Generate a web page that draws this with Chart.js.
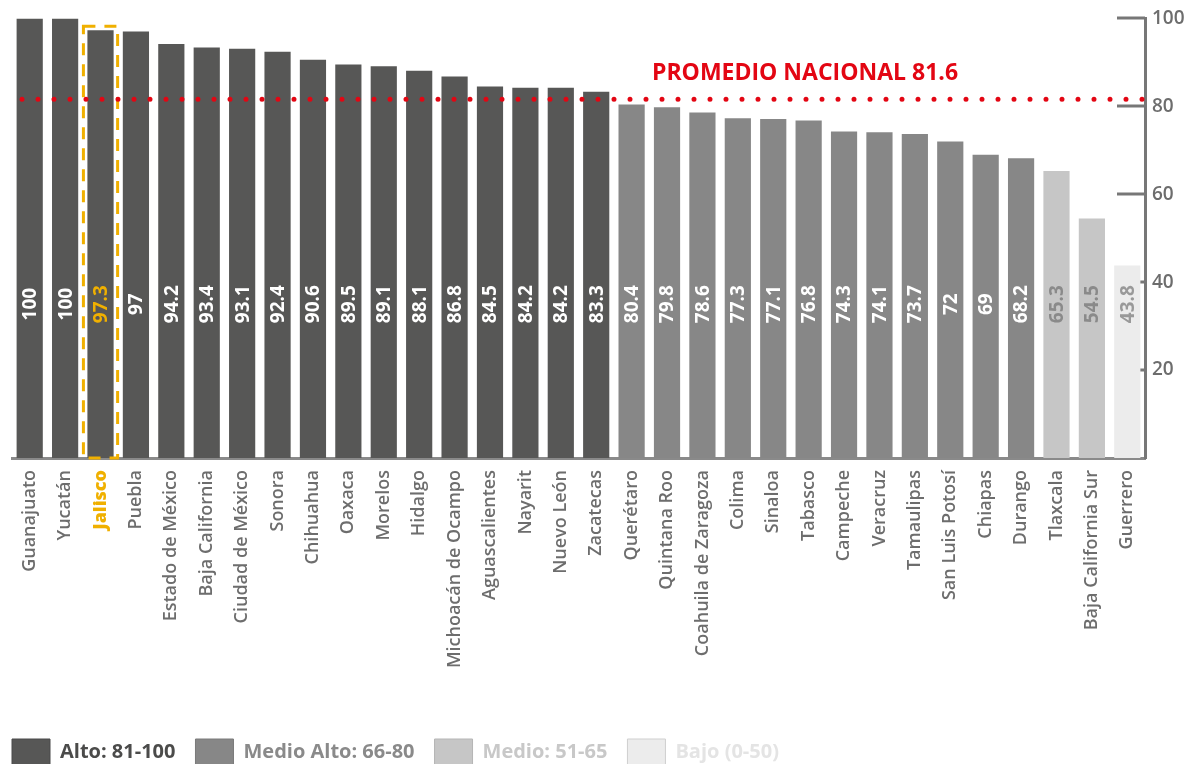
<!DOCTYPE html>
<html>
<head>
<meta charset="utf-8">
<script src="https://cdn.jsdelivr.net/npm/chart.js@4.4.1/dist/chart.umd.min.js"></script>
<style>
  html, body { margin: 0; padding: 0; background: #fff; }
  #wrap { width: 1188px; height: 764px; position: relative; }
</style>
</head>
<body>
<div id="wrap"><canvas id="chart"></canvas></div>
<script>
const states = ['Guanajuato', 'Yucatán', 'Jalisco', 'Puebla', 'Estado de México', 'Baja California',
  'Ciudad de México', 'Sonora', 'Chihuahua', 'Oaxaca', 'Morelos', 'Hidalgo', 'Michoacán de Ocampo',
  'Aguascalientes', 'Nayarit', 'Nuevo León', 'Zacatecas', 'Querétaro', 'Quintana Roo',
  'Coahuila de Zaragoza', 'Colima', 'Sinaloa', 'Tabasco', 'Campeche', 'Veracruz', 'Tamaulipas',
  'San Luis Potosí', 'Chiapas', 'Durango', 'Tlaxcala', 'Baja California Sur', 'Guerrero'];
const values = [100, 100, 97.3, 97, 94.2, 93.4, 93.1, 92.4, 90.6, 89.5, 89.1, 88.1, 86.8,
  84.5, 84.2, 84.2, 83.3, 80.4, 79.8, 78.6, 77.3, 77.1, 76.8, 74.3, 74.1, 73.7,
  72, 69, 68.2, 65.3, 54.5, 43.8];
const highlight = 'Jalisco';
const nationalAvg = 81.6;
const avgLabel = 'PROMEDIO NACIONAL 81.6';
const legendLabels = ['Alto: 81-100', 'Medio Alto: 66-80', 'Medio: 51-65', 'Bajo (0-50)'];

const tierColors = ['#575756', '#878787', '#c6c6c6', '#ececec'];
const tierBorders = ['#4a4a4a', '#7a7a7a', '#b5b5b5', '#cfcfcf'];
const legendTextColors = ['#4b4b4a', '#8a8a8a', '#c8c8c8', '#e4e4e4'];
const valueTextColors = ['#ffffff', '#ffffff', '#8a8a8a', '#999999'];
const orange = '#f0b000';
const red = '#e30613';
const FONT = "'Open Sans', sans-serif";

function tier(v) {
  if (v >= 81) return 0;
  if (v >= 66) return 1;
  if (v >= 51) return 2;
  return 3;
}
const hiIndex = states.indexOf(highlight);

// tick marks drawn inside the plot, under the bars
const innerTicks = {
  id: 'innerTicks',
  beforeDatasetsDraw(chart) {
    const ctx = chart.ctx, y = chart.scales.y, area = chart.chartArea;
    ctx.save();
    ctx.strokeStyle = '#777';
    ctx.lineWidth = 3;
    y.ticks.forEach(function(t) {
      if (t.value === 0) return;
      const py = Math.round(y.getPixelForValue(t.value));
      ctx.beginPath();
      ctx.moveTo(area.right - 28, py);
      ctx.lineTo(area.right, py);
      ctx.stroke();
    });
    ctx.restore();
  }
};

const overlays = {
  id: 'overlays',
  afterDatasetsDraw(chart) {
    const ctx = chart.ctx, y = chart.scales.y, area = chart.chartArea;
    const bars = chart.getDatasetMeta(0).data;

    // value labels inside the bars
    ctx.save();
    ctx.font = "700 19px " + FONT;
    ctx.textAlign = 'center';
    ctx.textBaseline = 'middle';
    const ly = y.getPixelForValue(35);
    bars.forEach(function(b, i) {
      ctx.save();
      ctx.translate(b.x, ly);
      ctx.rotate(-Math.PI / 2);
      ctx.fillStyle = i === hiIndex ? orange : valueTextColors[tier(values[i])];
      ctx.fillText(String(values[i]), 0, 1);
      ctx.restore();
    });
    ctx.restore();

    // highlight box
    const hb = bars[hiIndex];
    ctx.save();
    ctx.strokeStyle = orange;
    ctx.lineWidth = 3;
    ctx.setLineDash([12, 9]);
    const bx0 = hb.x - hb.width / 2 - 4, bx1 = hb.x + hb.width / 2 + 4;
    const by0 = hb.y - 4, by1 = area.bottom;
    ctx.strokeRect(bx0, by0, bx1 - bx0, by1 - by0);
    ctx.restore();

    // national average dotted line
    const ay = y.getPixelForValue(nationalAvg);
    ctx.save();
    ctx.strokeStyle = red;
    ctx.lineWidth = 5;
    ctx.lineCap = 'round';
    ctx.setLineDash([0, 16]);
    ctx.beginPath();
    ctx.moveTo(area.left + 10, ay);
    ctx.lineTo(area.right, ay);
    ctx.stroke();
    ctx.fillStyle = red;
    ctx.font = "700 23px " + FONT;
    ctx.textAlign = 'center';
    ctx.textBaseline = 'alphabetic';
    ctx.fillText(avgLabel, 805, ay - 19);
    ctx.restore();
  }
};

new Chart(document.getElementById('chart'), {
  type: 'bar',
  data: {
    labels: states,
    datasets: [{
      data: values,
      backgroundColor: values.map(function(v) { return tierColors[tier(v)]; }),
      borderWidth: 0,
      barPercentage: 0.74,
      categoryPercentage: 1
    }]
  },
  options: {
    responsive: true,
    maintainAspectRatio: false,
    animation: false,
    layout: { padding: { left: -8, top: 16, right: 0, bottom: -11 } },
    plugins: {
      tooltip: { enabled: false },
      legend: {
        position: 'bottom',
        align: 'start',
        labels: {
          boxWidth: 38,
          boxHeight: 26,
          padding: 20,
          font: { family: FONT, size: 20, weight: '700' },
          generateLabels: function() {
            return legendLabels.map(function(l, i) {
              return {
                text: l,
                fillStyle: tierColors[i],
                strokeStyle: tierBorders[i],
                lineWidth: 1,
                fontColor: legendTextColors[i],
                hidden: false,
                index: i
              };
            });
          }
        },
        onClick: function() {}
      }
    },
    scales: {
      pad: {
        type: 'linear',
        position: 'left',
        display: true,
        grid: { display: false },
        border: { display: false },
        ticks: { display: false },
        afterFit: function(s) { s.width = 20; }
      },
      x: {
        grid: { display: false },
        border: { display: true, color: '#8a8a8a', width: 3 },
        ticks: {
          autoSkip: false,
          minRotation: 90,
          maxRotation: 90,
          padding: 4,
          color: function(c) { return c.index === hiIndex ? orange : '#6d6d6d'; },
          font: function(c) {
            return { family: FONT, size: 18, weight: c.index === hiIndex ? '800' : '600' };
          }
        },
        afterFit: function(s) { s.height = 261; }
      },
      y: {
        position: 'right',
        min: 0,
        max: 100,
        grid: { display: true, drawOnChartArea: false, drawTicks: false },
        border: { display: true, color: '#777', width: 3 },
        ticks: {
          stepSize: 20,
          padding: 7,
          color: '#6d6d6d',
          font: { family: FONT, size: 19, weight: '600' },
          callback: function(v) { return v === 0 ? '' : v; }
        },
        afterFit: function(s) { s.width = 43; }
      }
    }
  },
  plugins: [innerTicks, overlays]
});
</script>
</body>
</html>
